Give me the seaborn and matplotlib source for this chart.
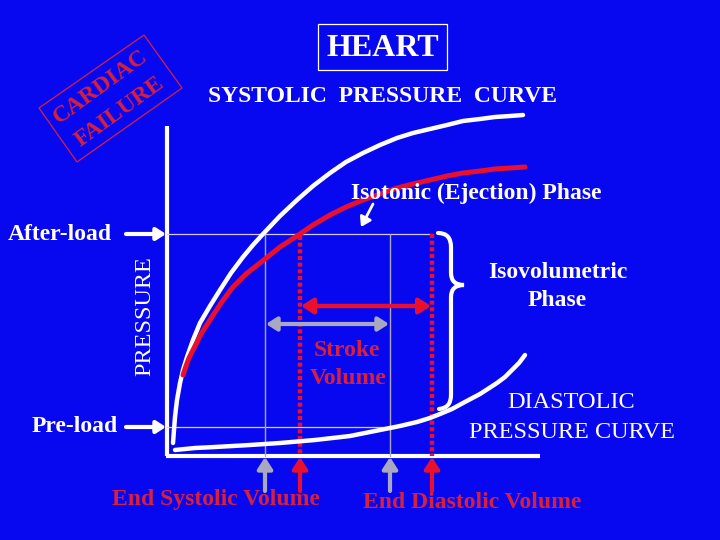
import numpy as np
import seaborn as sns
import matplotlib.pyplot as plt
from matplotlib.path import Path
from matplotlib.patches import PathPatch, Rectangle, Polygon

# curves, in picture pixels (x to the right, y downward)
systolic_x = [173, 174, 175, 177, 180, 183, 187, 193, 200, 210, 220, 231, 243, 253, 263,
              280, 297, 313, 330, 346, 363, 380, 397, 413, 430, 447, 463, 480, 495, 510, 523]
systolic_y = [443, 430, 417, 400, 383, 370, 357, 340, 323, 306, 290, 273, 257, 245, 234,
              216, 200, 186, 173, 162, 153, 145, 138, 133, 129, 125, 121, 119, 117, 116, 115]

failure_x = [183, 186, 189, 193, 201, 210, 221, 233, 246, 260, 270, 280, 297, 313, 330,
             346, 363, 380, 397, 413, 430, 447, 463, 480, 495, 510, 525]
failure_y = [375, 366, 358, 350, 334, 320, 303, 287, 274, 263, 255, 247, 236, 225, 215,
             207, 200, 194, 188, 184, 180, 176, 173, 171, 169, 168, 167]

diastolic_x = [175, 195, 215, 250, 280, 315, 350, 380, 400, 417, 430, 440, 452, 463, 480,
               497, 505, 512, 519, 525]
diastolic_y = [450, 448, 447, 445, 443, 440, 436, 430, 426, 422, 418, 414, 409, 403, 394,
               383, 377, 370, 363, 355]

afterload = 234
preload = 427
end_systolic = {"normal": 265, "failure": 300}
end_diastolic = {"normal": 390, "failure": 432}

stamp_x = [39, 144, 182, 77]
stamp_y = [108, 35, 88, 162]

BLUE = "#0808f0"
RED = "#e8102c"
RED_TEXT = "#d8203c"
GRAY = "#a8a8c0"
WHITE = "white"

sns.set_theme(style="white", rc={"figure.figsize": (7.2, 5.4)})
plt.rcParams["font.family"] = ["Liberation Serif", "DejaVu Serif"]

fig = plt.figure(figsize=(7.2, 5.4), dpi=100, facecolor=BLUE)
ax = fig.add_axes([0, 0, 1, 1])
ax.set_facecolor(BLUE)

# axes of the diagram
ax.plot([167, 167], [126, 456], color=WHITE, lw=3, solid_capstyle="butt")
ax.plot([165.5, 540], [456, 456], color=WHITE, lw=3, solid_capstyle="butt")

# reference lines
ax.plot([167, end_diastolic["failure"]], [afterload, afterload], color="#d0c8e8", lw=0.9)
ax.plot([167, end_diastolic["normal"]], [preload, preload], color="#d0d0e8", lw=0.9)
ax.plot([end_systolic["normal"]] * 2, [afterload, 456], color=GRAY, lw=1)
ax.plot([end_diastolic["normal"]] * 2, [afterload, 456], color=GRAY, lw=1)
ax.plot([end_systolic["failure"]] * 2, [236, 456], color=RED, lw=3.2,
        linestyle=(0, (0.9, 0.6)), dash_capstyle="butt")
ax.plot([end_diastolic["failure"]] * 2, [afterload, 456], color=RED, lw=3.2,
        linestyle=(0, (0.9, 0.6)), dash_capstyle="butt")

# pressure curves
sns.lineplot(x=systolic_x, y=systolic_y, sort=False, estimator=None, ax=ax,
             color=WHITE, lw=3.2, solid_capstyle="round")
sns.lineplot(x=failure_x, y=failure_y, sort=False, estimator=None, ax=ax,
             color=RED, lw=3.6, solid_capstyle="round")
sns.lineplot(x=diastolic_x, y=diastolic_y, sort=False, estimator=None, ax=ax,
             color=WHITE, lw=3.2, solid_capstyle="round")
ax.set_xlim(0, 720)
ax.set_ylim(540, 0)
ax.axis("off")


def arrow(tail, head, color, style="-|>", lw=3, scale=11):
    ax.annotate("", xy=head, xytext=tail,
                arrowprops=dict(arrowstyle=style + ",head_length=0.7,head_width=0.45",
                                color=color, lw=lw, shrinkA=0, shrinkB=0,
                                mutation_scale=scale))


# volume arrows under the axis
arrow((end_systolic["normal"], 491), (end_systolic["normal"], 457), GRAY, scale=10)
arrow((end_diastolic["normal"], 491), (end_diastolic["normal"], 457), GRAY, scale=10)
arrow((end_systolic["failure"], 491), (end_systolic["failure"], 457), RED, scale=10)
arrow((end_diastolic["failure"], 491), (end_diastolic["failure"], 457), RED, scale=10)

# stroke volume double arrows
arrow((end_systolic["failure"] + 1, 306), (end_diastolic["failure"] - 1, 306), RED,
      style="<|-|>", lw=3.2, scale=10)
arrow((end_systolic["normal"] + 1, 324), (end_diastolic["normal"] - 1, 324), GRAY,
      style="<|-|>", lw=3, scale=9)

# load arrows on the left
arrow((126, afterload), (166, afterload), WHITE, scale=8)
arrow((126, preload), (166, preload), WHITE, scale=8)

# small arrow to the ejection phase
arrow((373, 204), (361, 227), WHITE, lw=2, scale=8)

# curly brace of the isovolumetric phase
brace = Path(
    [(438, 233), (451, 233), (451, 247), (451, 273), (451, 285), (464, 285),
     (451, 285), (451, 297), (451, 395), (451, 408), (439, 409)],
    [Path.MOVETO, Path.CURVE3, Path.CURVE3, Path.LINETO, Path.CURVE3, Path.CURVE3,
     Path.CURVE3, Path.CURVE3, Path.LINETO, Path.CURVE3, Path.CURVE3])
ax.add_patch(PathPatch(brace, fill=False, edgecolor=WHITE, lw=3, capstyle="round"))

# title box
ax.add_patch(Rectangle((318, 24), 129, 46, fill=False, edgecolor=WHITE, lw=0.9))
ax.text(382.5, 48, "HEART", color=WHITE, fontsize=23, fontweight="bold",
        ha="center", va="center")

bold = dict(color=WHITE, fontsize=17, fontweight="bold", va="center", ha="center", zorder=6)
ax.text(382, 97, "SYSTOLIC  PRESSURE  CURVE", **bold)
ax.text(476, 193, "Isotonic (Ejection) Phase", **bold)
ax.text(60, 235, "After-load", **bold)
ax.text(75, 427, "Pre-load", **bold)
ax.text(558, 272, "Isovolumetric", **bold)
ax.text(557, 300, "Phase", **bold)

plain = dict(color=WHITE, fontsize=17.5, va="center", ha="center", zorder=6)
ax.text(145, 316, "PRESSURE", rotation=90, **plain)
ax.text(571, 403, "DIASTOLIC", **plain)
ax.text(572, 432, "PRESSURE CURVE", **plain)

red_bold = dict(color=RED_TEXT, fontsize=17, fontweight="bold", va="center",
                ha="center", zorder=6)
ax.text(347, 350, "Stroke", **red_bold)
ax.text(348, 378, "Volume", **red_bold)
ax.text(216, 499, "End Systolic Volume", **red_bold)
ax.text(472, 502, "End Diastolic Volume", **red_bold)

# cardiac failure stamp
ax.add_patch(Polygon(list(zip(stamp_x, stamp_y)), closed=True, fill=False,
                     edgecolor=RED_TEXT, lw=0.9))
ax.text(101, 87, "CARDIAC", rotation=36, rotation_mode="anchor", **red_bold)
ax.text(120, 112, "FAILURE", rotation=36, rotation_mode="anchor", **red_bold)

fig.savefig("out.png", dpi=100, facecolor=BLUE)
